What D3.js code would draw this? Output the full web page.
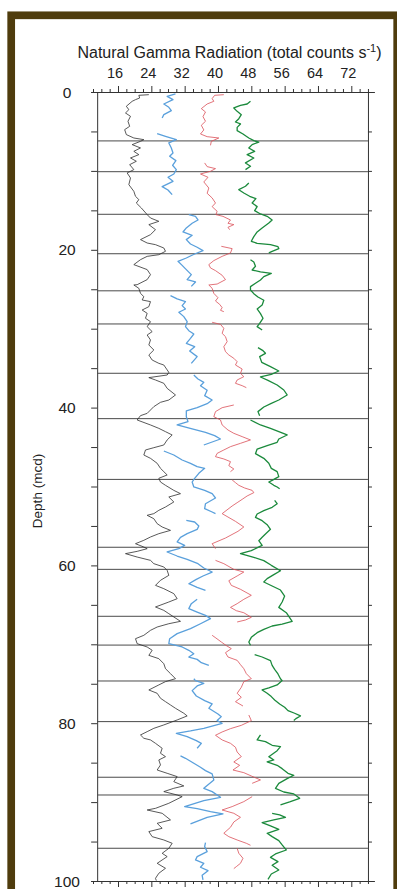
<!DOCTYPE html>
<html>
<head>
<meta charset="utf-8">
<script src="https://cdn.jsdelivr.net/npm/d3@7"></script>
<style>
  html, body { margin: 0; padding: 0; background: #fff; }
  svg { display: block; font-family: "Liberation Sans", Arial, sans-serif; }
</style>
</head>
<body>
<svg id="chart" width="397" height="889"></svg>
<script>
// tick values
const valueLabels = [16, 24, 32, 40, 48, 56, 64, 72];
const depthLabels = [0, 20, 40, 60, 80, 100];
// core breaks (mcd)
const coreBreaks = [6.2, 10.1, 15.5, 20.5, 25.2, 29.4, 35.65, 41.4, 49.1, 57.7, 60.5, 66.45, 70.1, 74.65, 79.8, 86.85, 89.1, 95.85];

// each trace: list of segments, each segment [depth, counts]
const blackTrace = [[
  [0.34,23.4],[0.42,21.0],[0.76,21.2],[0.97,20.2],[1.18,19.4],[1.81,18.0],[2.24,18.6],[2.66,17.8],[3.08,19.0],[3.71,18.4],
  [4.35,18.8],[4.77,17.6],[5.40,18.0],[5.83,19.8],[6.04,22.2],[6.25,21.4],[6.67,19.4],[7.09,21.4],[7.52,19.8],[7.94,21.0],
  [8.36,19.0],[8.78,20.4],[9.21,18.8],[9.84,19.8],[10.26,18.2],[10.90,19.0],[11.74,18.6],[12.59,19.8],[13.22,20.2],[13.64,21.0],
  [14.07,20.4],[14.70,21.6],[15.54,23.0],[15.97,23.8],[16.39,25.8],[16.81,23.4],[17.45,25.0],[18.08,23.8],[18.71,21.4],[19.14,23.0],
  [19.35,25.0],[19.77,27.0],[20.19,27.4],[20.62,25.8],[20.83,23.0],[21.25,21.4],[21.88,19.8],[22.51,23.0],[23.15,23.8],[23.78,23.0],
  [24.42,20.6],[24.46,19.8],[24.88,21.0],[25.52,21.4],[25.94,22.2],[26.36,21.8],[26.57,23.8],[27.21,23.4],[27.63,21.8],[28.05,23.0],
  [28.68,22.6],[29.11,23.8],[29.74,23.0],[30.37,24.2],[30.80,23.0],[31.43,23.8],[32.06,23.4],[32.70,24.6],[33.33,23.4],[33.97,24.2],
  [34.39,25.8],[34.60,27.0],[35.53,28.2],[35.87,27.8],[36.20,23.4],[36.50,25.0],[36.92,27.0],[37.56,27.8],[38.40,29.8],[39.04,28.2],
  [39.33,26.2],[39.88,24.6],[40.73,23.0],[41.02,21.4],[41.57,20.6],[42.20,23.8],[42.63,25.8],[43.05,27.4],[43.47,29.0],[44.10,27.8],
  [44.74,27.0],[45.08,24.6],[45.37,22.6],[46.01,22.2],[46.43,23.8],[47.06,25.4],[47.70,26.2],[48.12,27.0],[48.54,27.8],[48.96,25.8],
  [49.43,26.2],[49.85,27.4],[50.49,29.4],[50.91,31.0],[51.33,28.2],[51.96,29.4],[52.60,27.4],[53.02,25.8],[53.44,24.6],[53.65,23.0],
  [54.08,24.6],[54.71,25.4],[55.13,26.6],[55.56,28.6],[55.98,25.8],[56.40,23.8],[56.82,22.2],[57.25,20.2],[57.67,22.2],[57.88,23.0],
  [58.22,20.6],[58.51,17.8],[58.94,20.6],[59.36,23.8],[59.78,24.6],[60.20,27.0],[60.63,27.8],[61.26,28.2],[61.89,26.2],[62.53,25.0],
  [62.95,27.0],[63.58,29.4],[64.22,30.2],[64.64,28.2],[65.27,25.0],[65.70,27.0],[66.12,28.2],[67.09,31.0],[67.39,28.2],[67.81,25.4],
  [68.23,23.8],[68.86,22.2],[69.29,20.2],[69.92,20.6],[70.34,23.0],[70.76,24.2],[71.40,23.4],[71.82,25.8],[72.46,27.0],[73.09,27.4],
  [73.72,28.6],[74.36,29.8],[74.73,27.4],[75.15,25.8],[75.79,23.4],[76.21,25.4],[76.84,26.2],[77.27,27.4],[77.69,28.6],[78.11,29.8],
  [78.74,31.8],[79.08,32.6],[79.59,30.2],[80.22,27.0],[80.65,24.6],[81.07,23.0],[81.49,21.4],[81.91,22.2],[82.12,23.8],[82.55,25.0],
  [83.18,26.6],[83.81,26.2],[84.24,27.4],[84.66,25.8],[85.29,26.2],[85.93,25.4],[86.35,27.8],[86.77,30.2],[87.41,29.4],[87.95,31.8],
  [88.25,29.4],[88.67,27.0],[89.10,30.2],[89.31,31.4],[90.15,28.2],[90.79,25.0],[91.00,23.0],[91.42,26.6],[92.26,28.6],[92.69,25.4],
  [93.32,26.6],[93.74,23.4],[94.38,24.2],[94.80,27.0],[95.22,29.0],[95.86,28.2],[96.49,26.6],[96.91,27.8],[97.76,25.4],[98.39,27.4],
  [99.02,25.8],[99.66,25.0],[99.95,25.2]
]];

const blueTrace = [
  [[0.25,29.8],[0.55,27.8],[0.97,29.2],[1.52,27.0],[1.94,28.2],[2.36,28.8],[2.87,27.0],[3.29,26.6]],
  [[5.28,25.4],[5.62,27.4],[6.04,30.0],[6.46,28.2],[7.09,28.8],[7.73,29.2],[8.15,28.4],[8.70,29.9],[9.29,29.1],[9.84,30.0],
   [10.39,29.4],[10.81,28.0],[11.32,29.2],[11.99,26.6],[12.42,28.0],[13.01,29.0]],
  [[15.54,33.0],[15.76,34.6],[16.22,35.2],[16.64,33.8],[17.23,32.4],[17.74,31.6],[18.16,33.8],[18.71,32.4],[19.26,33.4],[19.68,35.0],
   [20.11,36.4],[20.53,34.4],[21.04,32.4],[21.46,30.4],[21.97,31.4],[22.51,32.4],[23.15,33.6],[23.78,32.6],[24.08,34.6],[24.63,33.6]],
  [[25.81,28.6],[26.23,30.2],[26.57,32.2],[27.08,31.4],[27.50,32.2],[27.92,30.6],[28.47,31.8],[29.11,32.6],[29.74,32.2],[30.25,33.0],
   [30.67,34.2],[31.22,33.4],[31.85,32.4],[32.28,34.4],[32.83,33.2],[33.54,35.0],[34.39,33.6]],
  [[35.87,34.2],[36.37,35.2],[36.80,36.6],[37.22,35.8],[37.81,37.4],[38.49,36.8],[39.04,38.6],[39.50,37.4],[40.01,35.0],[40.43,32.4],
   [41.15,32.4],[41.78,32.8],[42.20,30.2],[42.71,33.8],[43.13,37.0],[43.56,39.2],[43.98,40.6],[44.74,36.6]],
  [[45.50,27.0],[46.01,29.4],[46.64,31.4],[47.06,33.4],[47.48,35.0],[47.70,36.8],[48.33,35.4],[48.96,34.4],[49.43,33.8],[50.06,34.2],
   [50.49,36.8],[50.91,38.6],[51.46,39.4],[52.18,37.0],[52.81,36.8],[53.23,38.6],[53.44,39.4]],
  [[54.29,32.4],[54.50,34.4],[55.01,35.4],[55.43,35.0],[55.98,32.6],[56.44,31.0],[57.03,30.2],[57.46,32.0],[57.88,30.6],[58.30,27.8],
   [58.81,30.2],[59.23,32.6],[59.78,35.2],[60.33,36.6],[60.84,38.6],[61.34,36.4],[61.77,34.8],[62.32,33.0],[62.78,35.0],[63.16,37.0]],
  [[64.30,35.0],[64.85,33.6],[65.48,33.0],[65.91,35.0],[66.33,37.0],[66.75,38.2],[67.39,35.8],[68.02,33.4],[68.65,30.2],[69.29,28.4],
   [69.92,28.2],[70.34,31.4],[70.76,33.0],[71.19,34.2],[71.61,33.0],[71.91,35.0],[72.33,36.0],[72.67,37.8]],
  [[74.36,34.2],[74.60,34.6],[74.94,36.6],[75.28,35.0],[75.87,33.8],[76.55,34.8],[77.14,36.8],[77.56,38.6],[78.11,37.8],[78.83,40.0],
   [79.17,40.8],[79.67,39.8],[80.01,41.0],[80.65,36.6],[80.98,33.4],[81.28,30.0],[81.70,32.6],[82.21,34.8],[82.55,36.0],[83.18,35.0]],
  [[84.15,31.0],[84.45,32.2],[85.08,34.2],[85.59,35.8],[86.01,37.0],[86.43,38.6],[87.19,39.0],[88.25,36.6],[88.67,38.6],[89.39,40.6],
   [89.81,36.6],[90.57,32.0],[90.83,35.0],[91.21,38.2],[91.50,41.2],[91.93,37.4],[92.77,33.4]],
  [[95.14,37.0],[95.64,36.8],[96.28,37.4],[96.91,35.0],[97.33,34.6],[97.76,36.6],[98.26,35.8],[98.69,37.6],[99.28,36.2],[99.87,36.4]]
];

const redTrace = [
  [[0.34,41.4],[0.42,39.2],[0.84,38.6],[1.18,39.0],[1.52,37.4],[1.94,36.4],[2.11,36.0],[2.53,37.0],[3.12,36.4],[3.71,37.0],
   [4.22,36.0],[4.81,36.6],[5.32,35.8],[5.66,37.4],[5.83,40.2],[6.25,38.4],[6.76,38.2]],
  [[8.99,36.8],[9.46,37.4],[9.71,39.4],[10.05,38.2],[10.39,35.8],[10.81,37.6],[11.40,36.6],[12.17,37.8],[12.84,37.4],[13.43,38.6],
   [14.07,39.4],[14.53,38.6],[15.12,39.8],[15.54,39.5],[15.76,41.2],[16.22,43.0],[16.64,42.4],[16.81,43.8],[17.15,42.4],[17.45,42.8]],
  [[19.56,40.8],[19.85,43.4],[20.40,43.0],[20.83,41.0],[21.37,39.0],[21.88,37.8],[22.30,38.2],[22.64,39.4],[23.23,41.0],[23.78,41.8],
   [24.34,39.8],[24.46,37.8],[24.88,38.6],[25.52,39.0],[26.07,40.0],[26.49,39.4],[26.91,40.4],[27.33,41.0],[27.67,40.6],[27.84,41.4]],
  [[29.19,38.6],[29.45,40.6],[29.95,41.4],[30.59,41.0],[31.01,41.8],[31.64,42.2],[32.28,41.4],[32.91,41.8],[33.33,42.6],[33.75,43.8],
   [34.18,44.6],[34.60,44.2],[35.11,45.8],[35.66,45.4],[36.08,46.2],[36.50,44.6],[36.92,44.2],[37.22,45.8],[37.47,46.8]],
  [[39.67,43.8],[40.01,41.0],[40.51,39.4],[41.15,39.0],[41.57,40.6],[42.20,41.0],[42.84,42.4],[43.26,43.8],[43.68,45.8],[44.10,47.8],
   [44.53,45.4],[44.95,43.0],[45.37,41.4],[45.80,39.8],[46.22,39.4],[46.51,41.4],[46.85,43.0],[47.36,42.6],[47.78,43.8],[48.12,43.0]],
  [[49.17,43.4],[49.51,44.2],[49.85,45.0],[50.19,46.4],[50.49,48.2],[50.78,48.6],[51.20,47.0],[51.63,45.8],[52.05,44.6],[52.47,43.4],
   [53.44,41.0],[53.87,42.4],[54.42,44.2],[55.13,46.2],[55.68,44.8],[56.53,41.8],[57.25,38.6],[57.88,39.4]],
  [[59.36,39.4],[59.78,41.4],[60.50,43.8],[60.84,46.2],[61.34,44.6],[61.94,42.6],[62.53,43.2],[63.03,45.4],[63.79,48.0],[64.30,46.2],
   [64.85,44.6],[65.32,43.0],[65.74,44.4],[66.00,46.2],[66.58,48.0],[66.92,46.6],[67.17,44.6]],
  [[68.86,38.6],[69.20,39.5],[69.71,40.8],[70.13,41.9],[70.55,43.2],[71.06,41.8],[71.61,42.4],[72.03,44.6],[72.58,45.4],[73.09,46.2],
   [73.72,46.8],[74.36,48.0],[74.73,46.2],[75.45,45.6],[76.21,44.6],[76.72,45.6],[77.27,44.2],[77.82,46.0]],
  [[78.96,47.4],[79.67,48.0],[80.27,45.6],[80.69,43.0],[81.11,41.0],[81.53,39.4],[82.12,41.0],[82.55,43.0],[83.05,44.2],[83.65,44.6],
   [84.24,45.6],[84.91,43.8],[85.34,45.2],[85.93,43.6],[86.27,46.2],[86.69,48.0],[87.19,50.2],[87.62,48.2]],
  [[89.31,48.2],[89.94,46.2],[90.57,43.4],[91.00,41.0],[91.42,43.8],[91.93,45.4],[92.52,43.8],[93.19,43.0],[93.95,41.4],[94.38,42.6],
   [94.80,44.6],[95.22,46.8],[95.47,47.8]],
  [[95.86,44.6],[96.49,45.0],[97.12,46.0],[97.76,45.4],[98.18,44.4],[98.43,43.8]]
];

const greenTrace = [
  [[1.18,47.8],[1.52,47.0],[1.69,45.4],[2.02,43.8],[2.45,44.6],[2.87,45.6],[3.38,45.0],[3.80,44.2],[4.05,45.4],[4.48,44.6],
   [4.90,44.6],[5.32,46.0],[5.83,47.4],[6.17,48.6],[6.34,49.8],[6.67,48.2],[7.09,47.4],[7.52,48.8],[7.94,47.0],[8.36,48.6],
   [8.99,46.6],[9.42,47.8],[9.84,46.6]],
  [[11.53,47.4],[11.95,46.6],[12.38,45.0],[12.80,46.2],[13.22,47.6],[13.52,49.1],[14.07,48.2],[14.53,49.4],[15.04,48.8],[15.46,50.2],
   [15.76,51.8],[16.22,53.0],[16.60,52.2],[17.23,50.6],[17.74,49.4],[18.33,48.6],[18.92,48.0],[19.18,49.4],[19.35,52.6],[19.60,54.4],
   [19.85,54.6],[20.19,53.0],[20.40,52.2]],
  [[21.25,47.8],[21.54,48.6],[22.09,49.0],[22.56,48.2],[22.81,50.2],[22.98,52.8],[23.40,51.0],[23.83,50.2],[24.25,49.0],[24.67,47.8],
   [25.09,47.8],[25.56,48.6],[25.98,49.6],[26.40,51.0],[27.00,50.6],[27.50,49.4],[28.09,50.2],[28.68,50.8],[29.32,50.0],[29.74,49.4],
   [30.16,50.6]],
  [[32.40,49.6],[32.74,50.7],[33.12,51.4],[33.54,50.0],[34.26,50.5],[34.81,52.6],[35.36,54.6],[35.78,52.8],[36.12,50.2],[36.54,52.0],
   [37.13,54.2],[37.77,55.8],[38.40,56.6],[39.04,54.6],[39.46,52.8],[39.92,51.0],[40.51,49.6],[41.02,50.0]],
  [[41.57,47.8],[42.20,50.2],[42.63,52.6],[43.05,54.6],[43.47,56.6],[43.98,54.6],[44.40,54.2],[44.82,51.8],[45.25,49.4],[45.84,49.0],
   [46.43,51.0],[47.06,52.2],[47.70,52.8],[48.12,54.2],[48.75,54.6],[49.22,53.0],[49.43,52.2],[49.85,53.4],[50.06,54.2],[50.28,54.8]],
  [[51.75,53.6],[52.18,54.2],[52.64,53.0],[53.06,51.0],[53.49,49.4],[53.91,49.0],[54.33,50.6],[54.84,51.8],[55.43,52.6],[56.02,51.4],
   [56.44,50.6],[56.87,49.8],[57.46,50.6],[58.13,48.0],[58.51,45.4],[58.98,48.6],[59.40,51.0],[59.99,52.8],[60.67,55.0],[61.17,53.4],
   [61.68,51.8],[62.10,51.0],[62.61,53.0],[63.12,55.0],[63.88,56.0],[64.64,55.4],[65.32,54.6],[65.99,56.4],[67.09,57.8],[67.43,55.4],
   [67.68,53.0],[68.10,51.0],[68.53,49.4],[69.12,48.0],[69.71,47.4],[70.13,47.8]],
  [[71.31,48.8],[71.61,50.6],[72.07,52.6],[72.67,53.0],[73.17,53.6],[73.76,54.4],[74.36,55.0],[74.60,55.4],[75.15,54.2],[75.53,52.2],
   [75.79,50.6],[76.21,51.8],[76.63,52.8],[77.05,53.6],[77.56,54.8],[77.98,56.0],[78.41,56.8],[78.74,58.4],[79.08,59.8],[79.42,58.7],
   [79.67,58.2]],
  [[81.49,50.2],[82.12,49.4],[82.34,51.4],[82.80,53.0],[82.97,55.0],[83.48,54.2],[84.24,52.2],[84.66,53.4],[84.91,51.8],[85.34,54.2],
   [85.76,55.4],[86.35,56.8],[86.60,58.2],[87.03,56.6],[87.62,54.6],[88.25,53.8],[88.72,55.8],[88.97,58.2],[89.52,59.6],[89.98,57.2],
   [90.36,55.0]],
  [[91.42,53.0],[91.63,54.8],[91.93,56.2],[92.26,53.4],[92.60,50.6],[93.02,52.6],[93.45,54.6],[93.95,51.8],[94.38,53.0],[94.88,54.6],
   [95.43,55.4],[96.07,56.4],[96.57,53.8],[97.00,52.6],[97.55,54.4],[98.01,53.0],[98.60,54.6],[99.11,52.8],[99.79,52.0]]
];

const svg = d3.select('#chart');

// brown frame
svg.append('rect')
  .attr('x', 11.2).attr('y', 15.3)
  .attr('width', 386).attr('height', 900)
  .attr('fill', 'none')
  .attr('stroke', '#4f3c0d')
  .attr('stroke-width', 7.7);

const x = d3.scaleLinear().domain([16, 72]).range([118, 351.3]);
const y = d3.scaleLinear().domain([0, 100]).range([92, 881]);
// same mapping, wider extent for the axis line
const xa = d3.scaleLinear().domain([9.5, 77.5]).range([x(9.5), x(77.5)]);

const plotLeft = x(11), plotRight = x(76);
const axisColor = '#333';

const minorX = d3.range(10, 77, 2).filter(v => (v - 16) % 8 !== 0);

// top axis
const topAxis = svg.append('g').attr('transform', 'translate(0,' + y(0) + ')');
topAxis.append('g').call(d3.axisTop(xa).tickValues(minorX).tickSize(3).tickSizeOuter(0).tickFormat(''));
topAxis.append('g').call(d3.axisTop(xa).tickValues(valueLabels).tickSize(6).tickSizeOuter(0).tickPadding(8))
  .selectAll('text').attr('dx', -3.5).style('font-size', '14.5px');

// bottom axis
const bottomAxis = svg.append('g').attr('transform', 'translate(0,' + y(100) + ')');
bottomAxis.append('g').call(d3.axisBottom(xa).tickValues(minorX).tickSize(3).tickSizeOuter(0).tickFormat(''));
bottomAxis.append('g').call(d3.axisBottom(xa).tickValues(valueLabels).tickSize(6).tickSizeOuter(0).tickFormat(''));

// left and right depth axes
const depthTicks = d3.range(0, 101, 5);
svg.append('g').attr('transform', 'translate(' + plotLeft + ',0)')
  .call(d3.axisLeft(y).tickValues(depthTicks).tickSize(6).tickSizeOuter(0).tickFormat(''));
svg.append('g').attr('transform', 'translate(' + plotRight + ',0)')
  .call(d3.axisRight(y).tickValues(depthTicks).tickSize(4).tickSizeOuter(0).tickFormat(''));

svg.selectAll('.domain, .tick line').attr('stroke', axisColor);
svg.selectAll('.tick text').attr('fill', '#222').style('font-family', '"Liberation Sans", Arial, sans-serif');

svg.append('g').selectAll('text')
  .data(depthLabels)
  .enter()
  .append('text')
  .attr('x', 67)
  .attr('y', d => y(d))
  .attr('dy', '0.36em')
  .attr('text-anchor', 'middle')
  .style('font-size', '15.5px')
  .attr('fill', '#222')
  .text(d => d);

// core break lines
svg.append('g').selectAll('line')
  .data(coreBreaks)
  .enter()
  .append('line')
  .attr('x1', plotLeft).attr('x2', plotRight)
  .attr('y1', d => y(d)).attr('y2', d => y(d))
  .attr('stroke', '#4a4a4a')
  .attr('stroke-width', 1);

// traces
const line = d3.line().x(d => x(d[1])).y(d => y(d[0]));
const traces = [
  { segs: blackTrace, color: '#2e2e2e', w: 0.8 },
  { segs: blueTrace, color: '#5aa0dc', w: 1.3 },
  { segs: redTrace, color: '#db4f58', w: 0.8 },
  { segs: greenTrace, color: '#1b8a3c', w: 1.3 }
];
traces.forEach(t => {
  svg.append('g').selectAll('path')
    .data(t.segs)
    .enter()
    .append('path')
    .attr('d', line)
    .attr('fill', 'none')
    .attr('stroke', t.color)
    .attr('stroke-width', t.w)
    .attr('stroke-linejoin', 'round');
});

// titles
const title = svg.append('text')
  .attr('x', 229.5).attr('y', 58)
  .attr('text-anchor', 'middle')
  .style('font-size', '16px')
  .attr('fill', '#222');
title.append('tspan').text('Natural Gamma Radiation (total counts s');
title.append('tspan').attr('dy', -6).style('font-size', '11px').text('-1');
title.append('tspan').attr('dy', 6).text(')');

svg.append('text')
  .attr('transform', 'translate(42,' + 491 + ') rotate(-90)')
  .attr('text-anchor', 'middle')
  .style('font-size', '13.5px')
  .attr('fill', '#222')
  .text('Depth (mcd)');
</script>
</body>
</html>
